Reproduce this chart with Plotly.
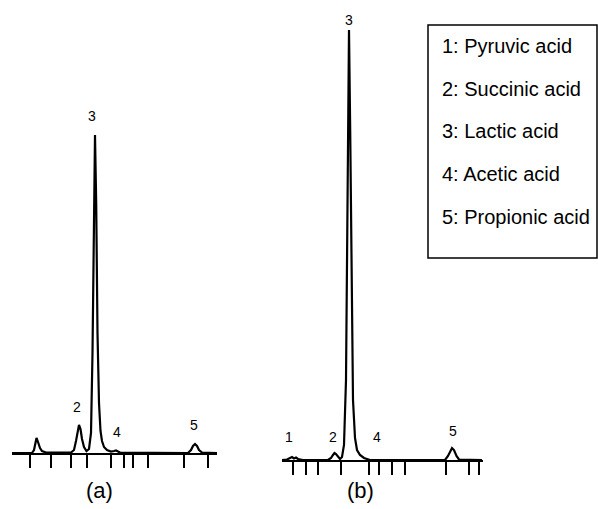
import plotly.graph_objects as go

# ---- Chromatogram (a): retention time (arbitrary units) and detector signal ----
time_a = [0, 2.0, 2.2, 2.35, 2.45, 2.6, 2.8, 3.0, 3.4, 5.9, 6.2, 6.4, 6.55, 6.7, 6.85, 7.0, 7.2,
          7.45, 7.7, 7.9, 8.05, 8.2, 8.3, 8.42, 8.55, 8.7, 8.85, 9.0, 9.2, 9.5, 9.9, 10.2, 10.4,
          10.6, 10.8, 17.6, 17.9, 18.1, 18.3, 18.5, 18.7, 19.0, 20.5]
signal_a = [0, 0, 3, 12, 15, 11, 5, 2, 0.5, 0.5, 3, 12, 22, 28, 24, 14, 6,
            2, 4, 20, 100, 260, 318, 250, 120, 50, 22, 12, 6, 3, 1.5, 2, 2.5,
            1.5, 0.5, 0, 3, 7, 9, 7, 3, 0.5, 0]
ticks_a = [1.8, 3.9, 5.9, 7.5, 9.9, 11.2, 12.1, 13.6, 17.2, 19.6]
peak_labels_a = ["2", "3", "4", "5"]
peak_label_t_a = [6.5, 8.0, 10.5, 18.2]
peak_label_s_a = [46, 337, 21, 28]

# ---- Chromatogram (b) ----
time_b = [0, 0.5, 0.8, 1.0, 1.2, 1.4, 1.6, 1.8, 2.1, 4.6, 4.9, 5.1, 5.25, 5.4, 5.6, 5.8, 6.0,
          6.2, 6.4, 6.55, 6.7, 6.82, 6.95, 7.1, 7.3, 7.5, 7.8, 8.2, 8.8, 16.3, 16.6, 16.85, 17.0,
          17.2, 17.45, 17.7, 20.0]
signal_b = [0, 0.5, 2, 3, 1.5, 2.5, 1, 0.5, 0, 0, 2, 5, 7, 6, 3, 1, 3,
            15, 80, 250, 430, 330, 160, 60, 22, 10, 5, 2, 0, 0, 4, 10, 12,
            10, 4, 0.5, 0]
ticks_b = [1.1, 2.4, 3.6, 5.9, 8.7, 9.7, 11.0, 12.3, 16.4, 18.7, 19.7]
peak_labels_b = ["1", "2", "3", "4", "5"]
peak_label_t_b = [0.7, 5.1, 6.7, 9.5, 17.1]
peak_label_s_b = [23, 23, 440, 23, 29]

legend_items = ["1: Pyruvic acid", "2: Succinic acid", "3: Lactic acid",
                "4: Acetic acid", "5: Propionic acid"]
panel_titles = ["(a)", "(b)"]

W, H = 598, 509
FONT = "Liberation Sans, Arial, sans-serif"

fig = go.Figure()
fig.add_trace(go.Scatter(x=time_a, y=signal_a, mode="lines", xaxis="x", yaxis="y",
                         line=dict(color="black", width=2.2), cliponaxis=False, showlegend=False))
fig.add_trace(go.Scatter(x=time_b, y=signal_b, mode="lines", xaxis="x2", yaxis="y2",
                         line=dict(color="black", width=2.2), cliponaxis=False, showlegend=False))

axis_common = dict(showgrid=False, zeroline=False, showline=True, linecolor="black", linewidth=2,
                   ticks="outside", ticklen=13, tickwidth=1.5, tickcolor="black",
                   showticklabels=False, tickmode="array")
fig.update_layout(
    width=W, height=H, margin=dict(l=0, r=0, t=0, b=0),
    paper_bgcolor="white", plot_bgcolor="white",
    xaxis=dict(domain=[12 / W, 217 / W], range=[0, 20.5], tickvals=ticks_a, anchor="y", **axis_common),
    yaxis=dict(domain=[56 / H, 1], range=[0, 453], visible=False, anchor="x"),
    xaxis2=dict(domain=[282 / W, 483 / W], range=[0, 20.1], tickvals=ticks_b, anchor="y2", **axis_common),
    yaxis2=dict(domain=[49 / H, 1], range=[0, 460], visible=False, anchor="x2"),
)

for lab, t, s in zip(peak_labels_a, peak_label_t_a, peak_label_s_a):
    fig.add_annotation(x=t, y=s, xref="x", yref="y", text=lab, showarrow=False,
                       yanchor="middle", font=dict(family=FONT, size=14, color="black"))
for lab, t, s in zip(peak_labels_b, peak_label_t_b, peak_label_s_b):
    fig.add_annotation(x=t, y=s, xref="x2", yref="y2", text=lab, showarrow=False,
                       yanchor="middle", font=dict(family=FONT, size=14, color="black"))

for title, px in zip(panel_titles, [99, 360]):
    fig.add_annotation(x=px / W, y=1 - 490 / H, xref="paper", yref="paper", text=title,
                       showarrow=False, xanchor="center", yanchor="middle",
                       font=dict(family=FONT, size=22, color="black"))

# legend box
fig.add_shape(type="rect", xref="paper", yref="paper", x0=428 / W, x1=597 / W,
              y0=1 - 258 / H, y1=1 - 25 / H, line=dict(color="black", width=1.5))
for i, item in enumerate(legend_items):
    fig.add_annotation(x=440 / W, y=1 - (46 + 42.7 * i) / H, xref="paper", yref="paper",
                       text=item, showarrow=False, xanchor="left", yanchor="middle",
                       font=dict(family=FONT, size=20, color="black"))

fig.write_html("out.html", config={"displayModeBar": False},
               post_script="document.body.style.margin='0';document.body.style.overflow='hidden';")
